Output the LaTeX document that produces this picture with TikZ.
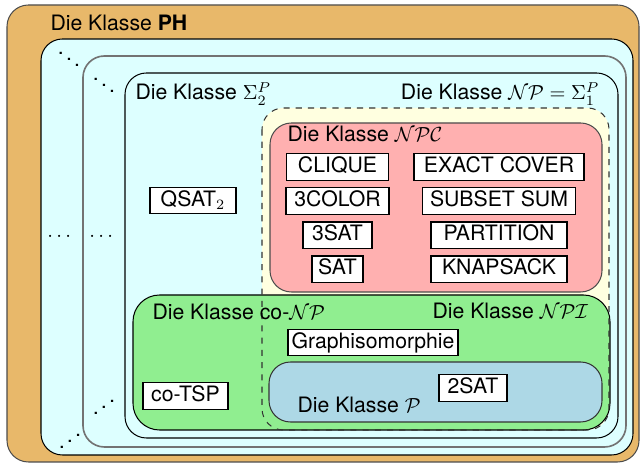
\documentclass[tikz,border=0pt]{standalone}
\usepackage[no-math]{fontspec}
\setmainfont{TeX Gyre Heros}
\usepackage{amsmath}
\usepackage{graphicx}
\usepackage{tikz}
\usetikzlibrary{positioning}
\definecolor{phorange}{RGB}{232,184,106}
\definecolor{hellcyan}{RGB}{221,255,255}
\definecolor{hellgelb}{RGB}{255,255,224}
\definecolor{npcrot}{RGB}{255,176,176}
\definecolor{hellgruen}{RGB}{144,238,144}
\definecolor{hellblau}{RGB}{173,216,230}

\begin{document}
\begin{tikzpicture}[x=0.49pt,y=-0.49pt,node distance=16.7pt,line width=0.5pt,
	font=\fontsize{10.4pt}{12.5pt}\selectfont,
	menge/.style={draw=black,rounded corners=10.5pt},
	problem/.style={draw,fill=white,line width=0.6pt,inner xsep=0pt,inner ysep=1.5pt,text height=7.8pt,text depth=2.2pt},
	titel/.style={inner sep=0pt,anchor=base west}]
		\useasboundingbox (0,0) rectangle (641,463);

		\draw[menge,fill=phorange,draw=black!70] (7,5) rectangle (639,462);
		\draw[menge,fill=hellcyan] (41,39) rectangle (633,455);
		\draw[menge,fill=hellcyan,draw=black!55,line width=0.8pt] (83,56) rectangle (626,447);
		\draw[menge,fill=hellcyan] (125,73) rectangle (618,438);
		\fill[hellgelb,rounded corners=10.5pt] (262,108) rectangle (609,430);
		\draw[menge,fill=npcrot,draw=black!70] (270,123) rectangle (602,292);
		\draw[menge,fill=hellgruen,rounded corners=13pt] (133,295) rectangle (610,430);
		\draw[menge,dashed,draw=black!80] (262,108) rectangle (609,430);
		\draw[menge,fill=hellblau,draw=black!80] (269,362) rectangle (602,422);

		\node[titel] (ph) at (50,31) {Die Klasse \textbf{PH}};
		\node[titel] (sigma2) at (135,100) {Die Klasse $\Sigma_2^P$};
		\node[titel,anchor=base east] (np) at (600,100) {Die Klasse $\mathcal{NP} = \Sigma_1^P$};
		\node[titel] (npc) at (287,142) {Die Klasse $\mathcal{NPC}$};
		\node[titel] (conp) at (152,320) {Die Klasse co-$\mathcal{NP}$};
		\node[titel] (npi) at (432,319) {Die Klasse $\mathcal{NPI}$};
		\node[titel] (p) at (297,413) {Die Klasse $\mathcal{P}$};

		\node (dots1) at (61,237) {$\cdots$};
		\node (dots2) at (103,237) {$\cdots$};
		\node (ddots1) at (69,53) {$\ddots$};
		\node (ddots2) at (104,79) {$\ddots$};
		\node (iddots1) at (104,401) {\reflectbox{$\ddots$}};
		\node (iddots2) at (70,435) {\reflectbox{$\ddots$}};

		\node[problem,minimum width=50pt] (clique) at (337.5,167) {CLIQUE};
		\node[problem,minimum width=50.5pt] (color) [below of=clique] {3COLOR};
		\node[problem,minimum width=33.8pt] (sat3) [below of=color] {3SAT};
		\node[problem,minimum width=25pt] (sat) [below of=sat3] {SAT};
		\node[problem,minimum width=83.3pt] (cover) at (499,167) {EXACT COVER};
		\node[problem,minimum width=75pt] (subset) [below of=cover] {SUBSET SUM};
		\node[problem,minimum width=66.6pt] (partition) [below of=subset] {PARTITION};
		\node[problem,minimum width=66.6pt] (knapsack) [below of=partition] {KNAPSACK};

		\node[problem,minimum width=42.1pt] (qsat) at (193,200.5) {QSAT$_2$};
		\node[problem,minimum width=41.7pt] (cotsp) at (185.5,396) {co-TSP};
		\node[problem,minimum width=83.3pt] (graphiso) at (373,342.5) {Graphisomorphie};
		\node[problem,minimum width=33.3pt] (sat2) at (473,388) {2SAT};
\end{tikzpicture}
\end{document}
